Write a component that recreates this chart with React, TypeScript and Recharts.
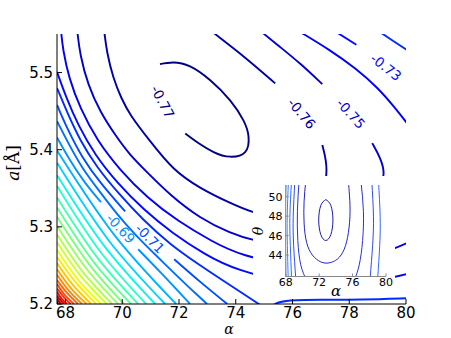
import React from "react";
import { ComposedChart, Line, Scatter, XAxis, YAxis } from "recharts";

// main axes
const xTicks = [68, 70, 72, 74, 76, 78, 80];
const yTicks = [5.2, 5.3, 5.4, 5.5];

// jet colours for levels -0.77 .. -0.47 (step 0.01)
const levelColors = [
  "#000080", "#0000a6", "#0000cd", "#0000f3", "#0008ff", "#002bff", "#004cff", "#006eff",
  "#0091ff", "#00b3ff", "#00d4ff", "#0ef6e9", "#29ffcd", "#44ffb2", "#60ff97", "#7bff7b",
  "#97ff60", "#b2ff44", "#cdff29", "#e9ff0e", "#ffe600", "#ffc600", "#ffa700", "#ff8700",
  "#ff6800", "#ff4800", "#ff2900", "#f30900", "#cd0000", "#a60000", "#800000",
];

// contour traces (alpha, a)
const c77 = [[71.33, 5.511], [71.8, 5.513], [72.39, 5.508], [73.1, 5.49], [73.8, 5.464], [74.27, 5.438], [74.45, 5.417], [74.33, 5.397], [73.8, 5.391], [73.22, 5.397], [72.63, 5.41], [72.22, 5.421]];
const c76a = [[69.36, 5.555], [69.46, 5.525], [69.68, 5.493], [69.96, 5.467], [70.27, 5.445], [70.96, 5.412], [71.79, 5.3735], [72.74, 5.35], [73.73, 5.332], [74.61, 5.318], [75.57, 5.31], [76.45, 5.319], [76.98, 5.338], [77.22, 5.363], [77.19, 5.3865], [77.05, 5.406]];
const c76b = [[75.39, 5.486], [74.33, 5.52], [73.27, 5.55], [73.1, 5.555]];
const c75a = [[68.41, 5.555], [68.51, 5.523], [68.79, 5.484], [69.22, 5.449], [69.75, 5.419], [70.27, 5.393], [70.87, 5.371], [71.69, 5.341], [72.74, 5.311], [73.8, 5.292], [74.61, 5.282], [75.92, 5.275], [77.33, 5.288], [78.39, 5.315], [79.09, 5.348], [79.27, 5.37], [79.09, 5.39], [78.81, 5.4085]];
const c75b = [[77.05, 5.485], [76.27, 5.512], [75.57, 5.533], [74.86, 5.554]];
const c74a = [[67.84, 5.555], [67.91, 5.529], [68.12, 5.493], [68.51, 5.454], [69.11, 5.412], [69.92, 5.3735], [70.87, 5.338], [71.97, 5.307], [73.17, 5.281], [74.15, 5.263], [76.27, 5.246], [78.04, 5.252], [79.62, 5.272], [80.15, 5.281]];
const c74b = [[76.27, 5.5526], [77.33, 5.529], [78.21, 5.506], [79.02, 5.48], [79.62, 5.454], [80.15, 5.429]];
const c73a = [[67.7, 5.501], [68.02, 5.468], [68.44, 5.432], [69.04, 5.393], [69.82, 5.357], [70.73, 5.323], [71.76, 5.292], [72.92, 5.264], [73.98, 5.244], [76.27, 5.223], [78.04, 5.224], [79.62, 5.235], [80.15, 5.24]];
const c73b = [[77.54, 5.5526], [78.25, 5.536]];
const c72a = [[67.7, 5.48], [68.05, 5.449], [68.51, 5.412], [69.11, 5.377], [69.85, 5.344], [70.73, 5.309], [71.69, 5.277], [72.74, 5.25], [73.73, 5.226], [74.61, 5.205], [74.93, 5.197]];
const c72b = [[79.02, 5.554], [79.55, 5.541], [80.15, 5.5266]];
const c72c = [[75.1, 5.193], [75.35, 5.2], [75.7, 5.205], [76.97, 5.2055], [78.39, 5.2055], [80.1, 5.2075]];
const c71a = [[67.7, 5.458], [68.09, 5.425], [68.58, 5.39], [69.22, 5.357], [70.1, 5.32]];
const c71b = [[71.83, 5.258], [72.74, 5.229], [73.7, 5.2]];
const c70 = [[67.7, 5.437], [68.09, 5.409], [68.58, 5.376], [69.22, 5.345], [69.82, 5.316], [70.45, 5.29], [71.16, 5.264], [71.97, 5.235], [72.6, 5.213], [72.99, 5.2]];
const c69a = [[67.7, 5.416], [68.09, 5.39], [68.65, 5.358], [69.25, 5.332]];
const c69b = [[70.56, 5.271], [71.4, 5.239], [72.39, 5.2]];

// dense band, levels -0.68 .. -0.47: left-edge a, middle point, bottom-edge alpha
const bandLeftY = [5.399, 5.383, 5.367, 5.353, 5.338, 5.325, 5.313, 5.301, 5.29, 5.28, 5.27, 5.261, 5.253, 5.245, 5.238, 5.231, 5.226, 5.22, 5.216, 5.211, 5.207, 5.2035];
const bandMidX = [69.71, 69.53, 69.37, 69.22, 69.08, 68.96, 68.84, 68.73, 68.62, 68.52, 68.43, 68.34, 68.25, 68.18, 68.1, 68.04, 67.97, 67.92, 67.86, 67.82, 67.77, 67.72];
const bandMidY = [5.29, 5.282, 5.275, 5.268, 5.262, 5.256, 5.251, 5.246, 5.241, 5.237, 5.232, 5.229, 5.225, 5.221, 5.218, 5.215, 5.212, 5.21, 5.207, 5.205, 5.203, 5.201];
const bandBottomX = [71.9, 71.51, 71.16, 70.84, 70.56, 70.31, 70.06, 69.85, 69.64, 69.45, 69.25, 69.08, 68.9, 68.74, 68.58, 68.44, 68.3, 68.18, 68.05, 67.95, 67.84, 67.75];

// inline contour labels
const labelText = ["-0.77", "-0.76", "-0.75", "-0.73", "-0.71", "-0.69"];
const labelLevel = [0, 1, 2, 4, 6, 8];
const labelX = [71.43, 76.33, 78.06, 79.3, 70.98, 69.95];
const labelY = [5.462, 5.447, 5.447, 5.507, 5.285, 5.298];
const labelAngle = [62, 50, 48, 38, 45, 47];

// inset (alpha vs theta)
const insetXTicks = [68, 72, 76, 80];
const insetYTicks = [44, 46, 48, 50];
const i1 = [[72.8, 49.7], [73.4, 49.1], [73.65, 47.6], [73.4, 46.1], [72.8, 45.5], [72.2, 46.1], [71.95, 47.6], [72.2, 49.1], [72.8, 49.7]];
const i2 = [[70.4, 51.6], [70.2, 49.5], [70.2, 47.3], [70.5, 45.3], [71.2, 44.0], [72.2, 43.3], [73.2, 43.2], [74.2, 43.6], [75.0, 44.6], [75.5, 46.3], [75.7, 48.5], [75.6, 50.5], [75.5, 51.6]];
const i3l = [[69.6, 51.6], [69.4, 48.5], [69.45, 45.5], [69.8, 43.0], [70.5, 41.4]];
const i3r = [[77.0, 51.6], [77.3, 48.5], [77.2, 45.5], [76.8, 43.0], [76.2, 41.4]];
const i4l = [[69.1, 51.6], [68.9, 48], [68.95, 45], [69.2, 41.6]];
const i4r = [[78.3, 51.6], [78.5, 48], [78.4, 45], [78.1, 41.6]];
const i5l = [[68.7, 51.6], [68.5, 48], [68.55, 45], [68.7, 41.6]];
const i5r = [[79.1, 51.6], [79.3, 48], [79.25, 45], [79.0, 41.6]];
const i6l = [[68.33, 51.6], [68.18, 48], [68.2, 45], [68.3, 41.6]];
const i7l = [[68.06, 51.6], [67.95, 48], [67.97, 45], [68.04, 41.6]];
const insetColors = ["#1a1aa8", "#2222c8", "#2a30dc", "#2f4cf0", "#3366ff", "#3a80ff", "#3c90ff"];

const pts = (a: number[][]) => a.map(([x, y]) => ({ x, y }));

const segments = [
  { level: 0, data: pts(c77) },
  { level: 1, data: pts(c76a) }, { level: 1, data: pts(c76b) },
  { level: 2, data: pts(c75a) }, { level: 2, data: pts(c75b) },
  { level: 3, data: pts(c74a) }, { level: 3, data: pts(c74b) },
  { level: 4, data: pts(c73a) }, { level: 4, data: pts(c73b) },
  { level: 5, data: pts(c72a) }, { level: 5, data: pts(c72b) }, { level: 5, data: pts(c72c) },
  { level: 6, data: pts(c71a) }, { level: 6, data: pts(c71b) },
  { level: 7, data: pts(c70) },
  { level: 8, data: pts(c69a) }, { level: 8, data: pts(c69b) },
  ...bandLeftY.map((ly, i) => ({
    level: 9 + i,
    data: [{ x: 67.7, y: ly }, { x: bandMidX[i], y: bandMidY[i] }, { x: bandBottomX[i], y: 5.2 }],
  })),
];

const labelPoints = labelText.map((t, i) => ({
  x: labelX[i], y: labelY[i], text: t, level: labelLevel[i], angle: labelAngle[i],
}));

const insetLines = [
  { c: 0, data: pts(i1) }, { c: 1, data: pts(i2) },
  { c: 2, data: pts(i3l) }, { c: 2, data: pts(i3r) },
  { c: 3, data: pts(i4l) }, { c: 3, data: pts(i4r) },
  { c: 4, data: pts(i5l) }, { c: 4, data: pts(i5r) },
  { c: 5, data: pts(i6l) }, { c: 6, data: pts(i7l) },
];

// long traces use a B-spline so uneven point spacing does not make them wobble
const curveFor = (level: number, n: number) => (level === 0 || n <= 3 ? "natural" : "basis");

const ContourLabel = (props: any) => {
  const { cx, cy, payload } = props;
  return (
    <text
      x={cx}
      y={cy}
      fill={levelColors[payload.level]}
      fontSize={13.5}
      fontFamily="DejaVu Sans"
      textAnchor="middle"
      dominantBaseline="central"
      transform={`rotate(${payload.angle} ${cx} ${cy})`}
    >
      {payload.text}
    </text>
  );
};

const serif = "DejaVu Serif";

export default function App() {
  return (
    <div style={{ position: "absolute", left: 0, top: 0, width: 451, height: 338, background: "#fff", fontFamily: "DejaVu Sans" }}>
      <ComposedChart width={451} height={338} margin={{ top: 34, right: 45, bottom: 0, left: 0 }}>
        <XAxis
          type="number" dataKey="x" domain={[67.7, 80]} allowDataOverflow ticks={xTicks} interval={0}
          height={34} tickSize={-5} tickMargin={8} stroke="#000"
          tick={{ fill: "#000", fontSize: 15 }}
        />
        <XAxis
          xAxisId="top" orientation="top" type="number" dataKey="x" domain={[67.7, 80]} allowDataOverflow
          ticks={xTicks} interval={0} height={0} tickSize={-5} tick={false} stroke="#000"
        />
        <YAxis
          type="number" dataKey="y" domain={[5.2, 5.55]} allowDataOverflow ticks={yTicks} interval={0}
          width={57} tickSize={-5} tickMargin={9} stroke="#000"
          tick={{ fill: "#000", fontSize: 15 }} tickFormatter={(v: number) => v.toFixed(1)}
        />
        <YAxis
          yAxisId="right" orientation="right" type="number" dataKey="y" domain={[5.2, 5.55]} allowDataOverflow
          ticks={yTicks} interval={0} width={0} tickSize={-5} tick={false} stroke="#000"
        />
        {segments.map((s, i) => (
          <Line
            key={i} data={s.data} dataKey="y" type={curveFor(s.level, s.data.length)} stroke={levelColors[s.level]}
            strokeWidth={1.9} dot={false} activeDot={false} isAnimationActive={false}
          />
        ))}
        <Scatter data={labelPoints} dataKey="y" shape={ContourLabel} isAnimationActive={false} />
      </ComposedChart>

      <div style={{ position: "absolute", left: 253, top: 176, width: 142, height: 120, background: "#fff" }}>
        <ComposedChart width={142} height={120} margin={{ top: 9, right: 9, bottom: 0, left: 0 }}>
          <XAxis
            type="number" dataKey="x" domain={[68, 80]} allowDataOverflow ticks={insetXTicks} interval={0}
            height={19.5} tickSize={-3} tickMargin={4.5} stroke="#888"
            tick={{ fill: "#000", fontSize: 11 }}
          />
          <XAxis
            xAxisId="top" orientation="top" type="number" dataKey="x" domain={[68, 80]} allowDataOverflow
            ticks={insetXTicks} interval={0} height={0} tickSize={-3} tick={false} stroke="#888"
          />
          <YAxis
            type="number" dataKey="y" domain={[41.8, 51.2]} allowDataOverflow ticks={insetYTicks} interval={0}
            width={32.7} tickSize={-3} tickMargin={6.2} stroke="#888"
            tick={{ fill: "#000", fontSize: 11 }}
          />
          <YAxis
            yAxisId="right" orientation="right" type="number" dataKey="y" domain={[41.8, 51.2]} allowDataOverflow
            ticks={insetYTicks} interval={0} width={0} tickSize={-3} tick={false} stroke="#888"
          />
          {insetLines.map((s, i) => (
            <Line
              key={i} data={s.data} dataKey="y" type="natural" stroke={insetColors[s.c]}
              strokeWidth={1} dot={false} activeDot={false} isAnimationActive={false}
            />
          ))}
        </ComposedChart>
      </div>

      <svg width={451} height={338} style={{ position: "absolute", left: 0, top: 0, pointerEvents: "none" }}>
        <text x={229} y={334} textAnchor="middle" fontSize={14} fontStyle="italic" fontFamily={serif} fill="#000">α</text>
        <text transform="translate(19,163) rotate(-90)" textAnchor="middle" fontSize={17} fontFamily={serif} fill="#000">
          <tspan fontStyle="italic">a</tspan>[Å]
        </text>
        <text transform="translate(263,231) rotate(-90)" textAnchor="middle" fontSize={14} fontStyle="italic" fontFamily={serif} fill="#000">θ</text>
        <text x={336} y={296} textAnchor="middle" fontSize={15} fontStyle="italic" fontFamily={serif} fill="#000">α</text>
      </svg>
    </div>
  );
}
